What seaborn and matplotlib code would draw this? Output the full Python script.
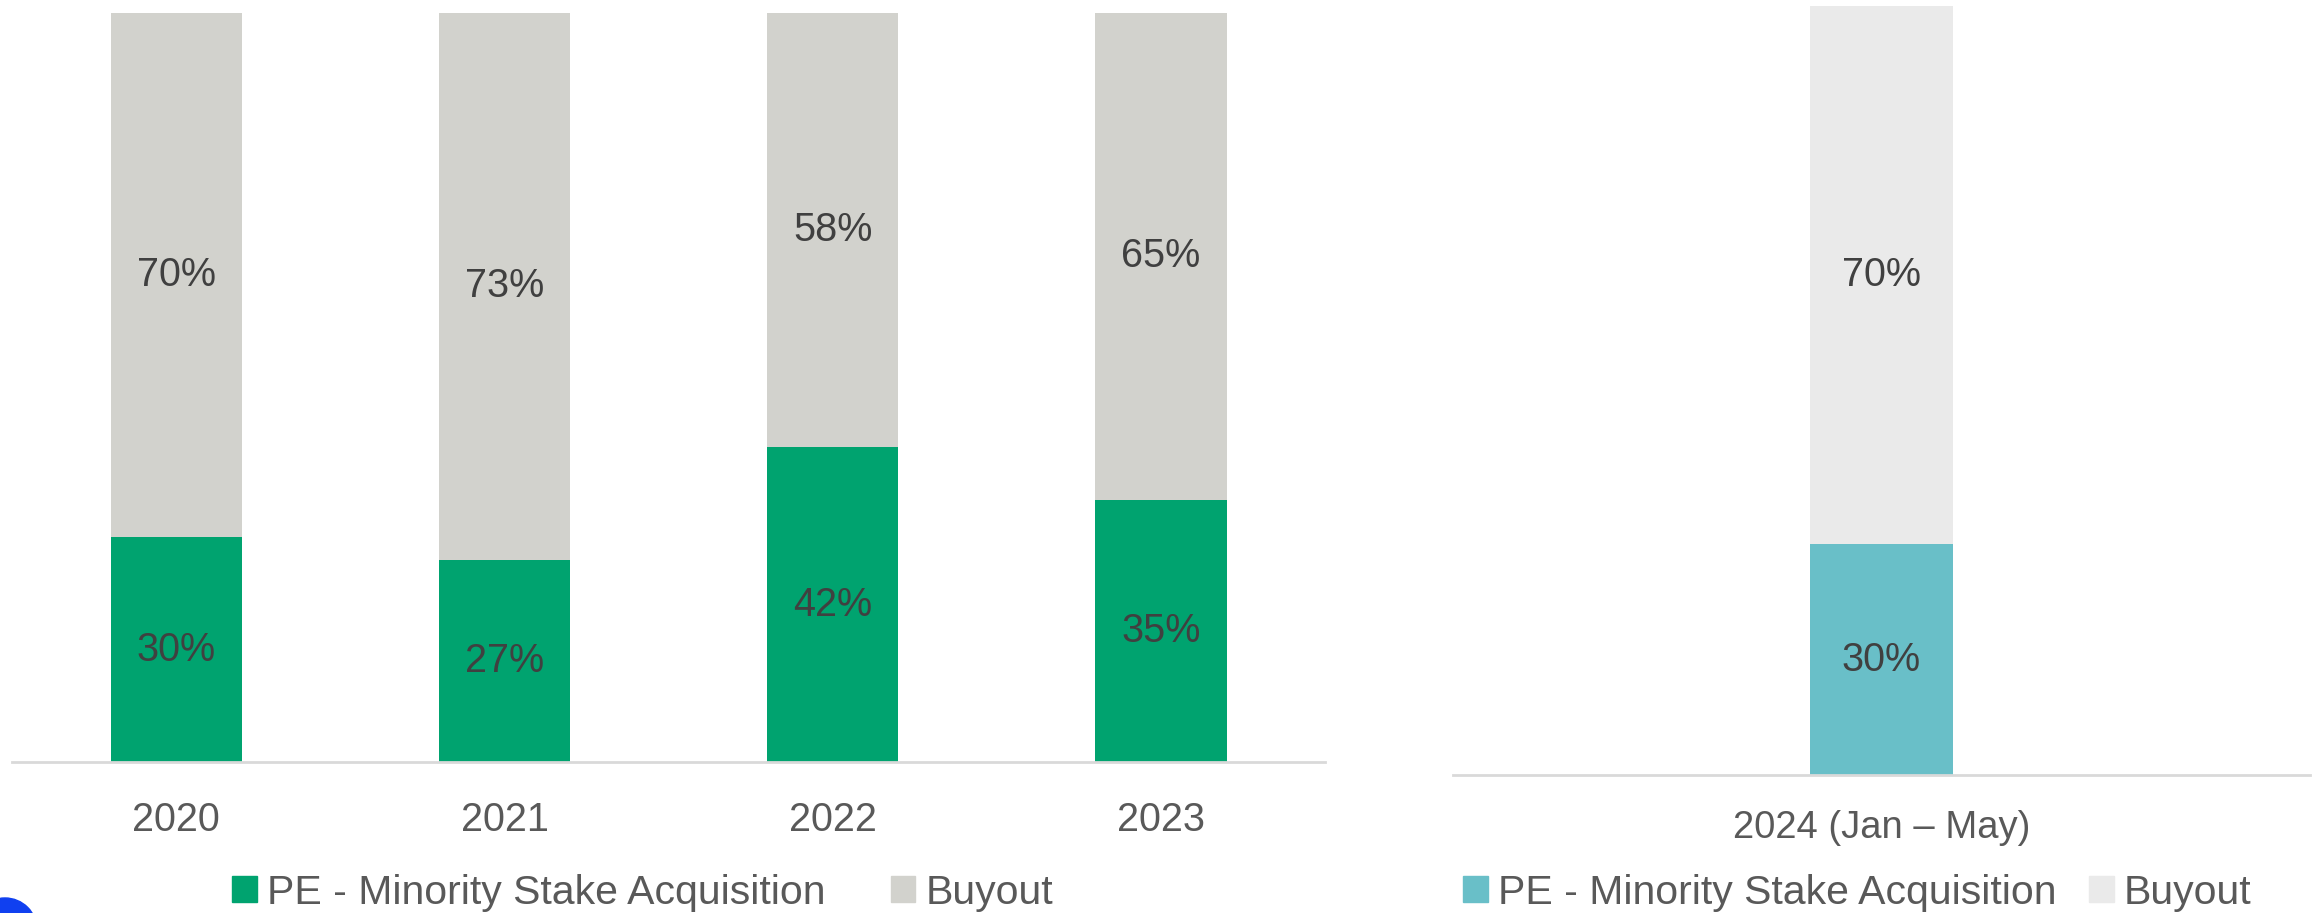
import matplotlib
matplotlib.use("Agg")
import matplotlib.pyplot as plt
import matplotlib.patches as mpatches
import seaborn as sns

years = ["2020", "2021", "2022", "2023"]
minority = [0.30, 0.27, 0.42, 0.35]
buyout = [0.70, 0.73, 0.58, 0.65]

ytd_label = ["2024 (Jan – May)"]
ytd_minority = [0.30]
ytd_buyout = [0.70]

legend_labels = ["PE - Minority Stake Acquisition", "Buyout"]

green, gray = "#00A36F", "#D2D2CD"
teal, lightgray = "#69BFC8", "#EAEAEA"
value_color, tick_color = "#404040", "#595959"

sns.set_theme(style="white")
plt.rcParams["font.family"] = ["Liberation Sans", "DejaVu Sans"]

fig = plt.figure(figsize=(23.2, 9.13), dpi=100)
ax1 = fig.add_axes([0.0052, 0.1654, 0.566, 0.8204])
ax2 = fig.add_axes([0.6263, 0.1511, 0.3694, 0.8423])


def stacked(ax, cats, low, high, c_low, c_high, width, pad, tsize):
    totals = [a + b for a, b in zip(low, high)]
    sns.barplot(x=cats, y=totals, color=c_high, width=width, saturation=1, linewidth=0, ax=ax)
    sns.barplot(x=cats, y=low, color=c_low, width=width, saturation=1, linewidth=0, ax=ax)
    for i, (a, b) in enumerate(zip(low, high)):
        ax.text(i, a / 2, f"{a:.0%}", ha="center", va="center", fontsize=28.5, color=value_color)
        ax.text(i, a + b / 2, f"{b:.0%}", ha="center", va="center", fontsize=28.5, color=value_color)
    ax.set_ylim(0, 1)
    ax.set_xlim(-0.5, len(cats) - 0.5)
    ax.set_yticks([])
    ax.set_xlabel("")
    ax.set_ylabel("")
    for s in ["top", "right", "left"]:
        ax.spines[s].set_visible(False)
    ax.spines["bottom"].set_color("#D9D9D9")
    ax.spines["bottom"].set_linewidth(2)
    ax.tick_params(axis="x", length=0, pad=pad, labelsize=tsize, labelcolor=tick_color)


stacked(ax1, years, minority, buyout, green, gray, 0.4, 28, 28.5)
stacked(ax2, ytd_label, ytd_minority, ytd_buyout, teal, lightgray, 0.167, 25, 27.5)

for colors, x, gap in [((green, gray), 0.1, 1.6), ((teal, lightgray), 0.6306, 0.8)]:
    handles = [mpatches.Patch(color=c, label=l) for c, l in zip(colors, legend_labels)]
    fig.legend(handles=handles, loc="center left", bbox_to_anchor=(x, 0.022), ncol=2,
               frameon=False, fontsize=29.5, labelcolor=tick_color, handlelength=0.6,
               handleheight=0.6, handletextpad=0.25, columnspacing=gap,
               borderpad=0, borderaxespad=0)

# cropped logo fragment in the corner
fig.patches.append(mpatches.Ellipse((5 / 2320, -0.0186), 64 / 2320, 64 / 913,
                                    transform=fig.transFigure, color="#1040F0"))

fig.savefig("out.png", dpi=100)
